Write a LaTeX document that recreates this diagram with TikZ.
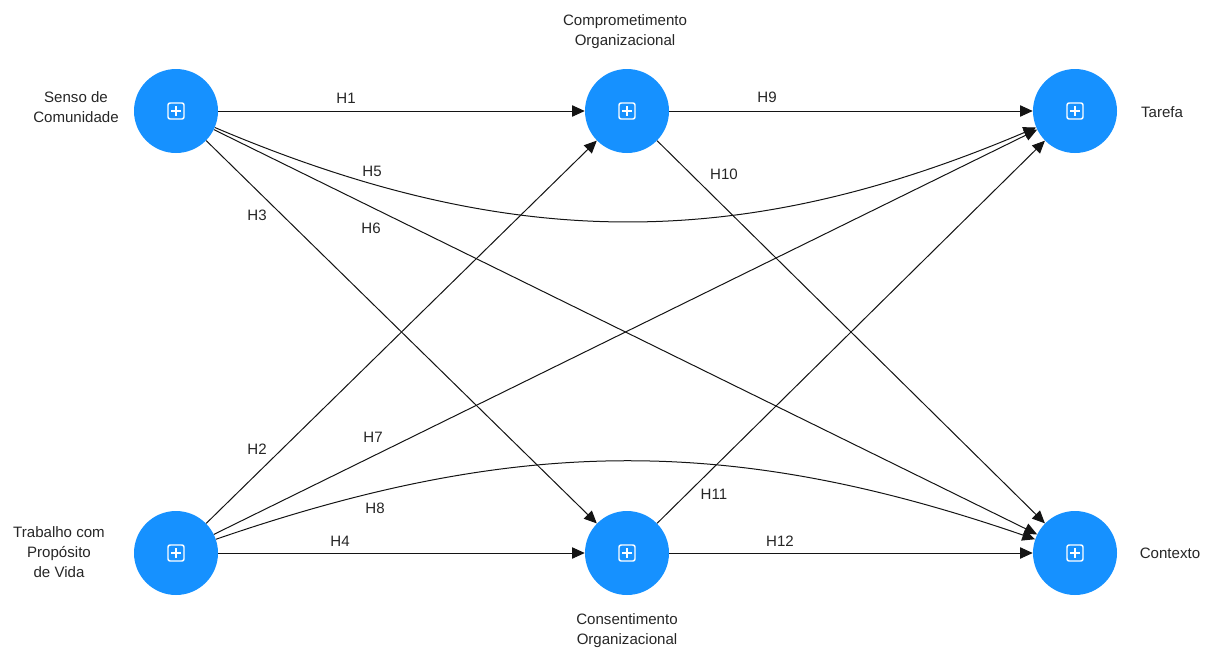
\documentclass[tikz,border=0pt]{standalone}
\usepackage{fontspec}
\setmainfont{Liberation Sans}
\usetikzlibrary{arrows.meta}
\definecolor{lvblue}{RGB}{22,145,255}
\definecolor{linecol}{RGB}{20,20,20}
\begin{document}
\begin{tikzpicture}[x=0.75pt,y=-0.75pt,
  latent/.style={circle, fill=lvblue, minimum size=63pt, inner sep=0pt,
    path picture={
      \draw[white, line width=1.1pt, rounded corners=1.6pt]
        ([shift={(-6pt,-6pt)}]path picture bounding box.center) rectangle ++(12pt,12pt);
      \draw[white, line width=1.1pt]
        ([xshift=-3.6pt]path picture bounding box.center) -- ++(7.2pt,0pt)
        ([yshift=-3.6pt]path picture bounding box.center) -- ++(0pt,7.2pt);
    }},
  varname/.style={align=center, font=\fontsize{11.3}{15}\selectfont, text=black!85},
  hyp/.style={font=\fontsize{11.3}{13}\selectfont, text=black!85, inner sep=0pt},
  conn/.style={draw=linecol, line width=0.75pt, -{Triangle[length=9.5pt,width=8.5pt]}}
]
\useasboundingbox (0,0) rectangle (1210,647);

% latent variables
\node[latent] (senso)   at (176,111) {};
\node[latent] (compr)   at (627,111) {};
\node[latent] (tarefa)  at (1075,111) {};
\node[latent] (trab)    at (176,553) {};
\node[latent] (consent) at (627,553) {};
\node[latent] (contexto) at (1075,553) {};

% variable names
\node[varname] (nsenso)   at (76,107)  {Senso de\\Comunidade};
\node[varname] (ncompr)   at (625,32)  {Comprometimento\\Organizacional};
\node[varname] (ntarefa)  at (1162,112) {Tarefa};
\node[varname] (ntrab)    at (59,552)  {Trabalho com\\Propósito\\de Vida};
\node[varname] (nconsent) at (627,631) {Consentimento\\Organizacional};
\node[varname] (ncontexto) at (1170,553) {Contexto};

% structural paths
\draw[conn] (senso) -- (compr);
\draw[conn] (compr) -- (tarefa);
\draw[conn] (compr) -- (contexto);
\draw[conn] (senso) to[bend right=23] (tarefa);
\draw[conn] (senso) -- (contexto);
\draw[conn] (senso) -- (consent);
\draw[conn] (trab) -- (compr);
\draw[conn] (trab) -- (tarefa);
\draw[conn] (trab) to[bend left=19] (contexto);
\draw[conn] (trab) -- (consent);
\draw[conn] (consent) -- (tarefa);
\draw[conn] (consent) -- (contexto);

% hypothesis labels
\node[hyp] (h1)  at (346,98)  {H1};
\node[hyp] (h9)  at (767,97)  {H9};
\node[hyp] (h5)  at (372,171) {H5};
\node[hyp] (h10) at (724,174) {H10};
\node[hyp] (h3)  at (257,215) {H3};
\node[hyp] (h6)  at (371,228) {H6};
\node[hyp] (h2)  at (257,449) {H2};
\node[hyp] (h7)  at (373,437) {H7};
\node[hyp] (h11) at (714,494) {H11};
\node[hyp] (h8)  at (375,508) {H8};
\node[hyp] (h4)  at (340,541) {H4};
\node[hyp] (h12) at (780,541) {H12};
\end{tikzpicture}
\end{document}
